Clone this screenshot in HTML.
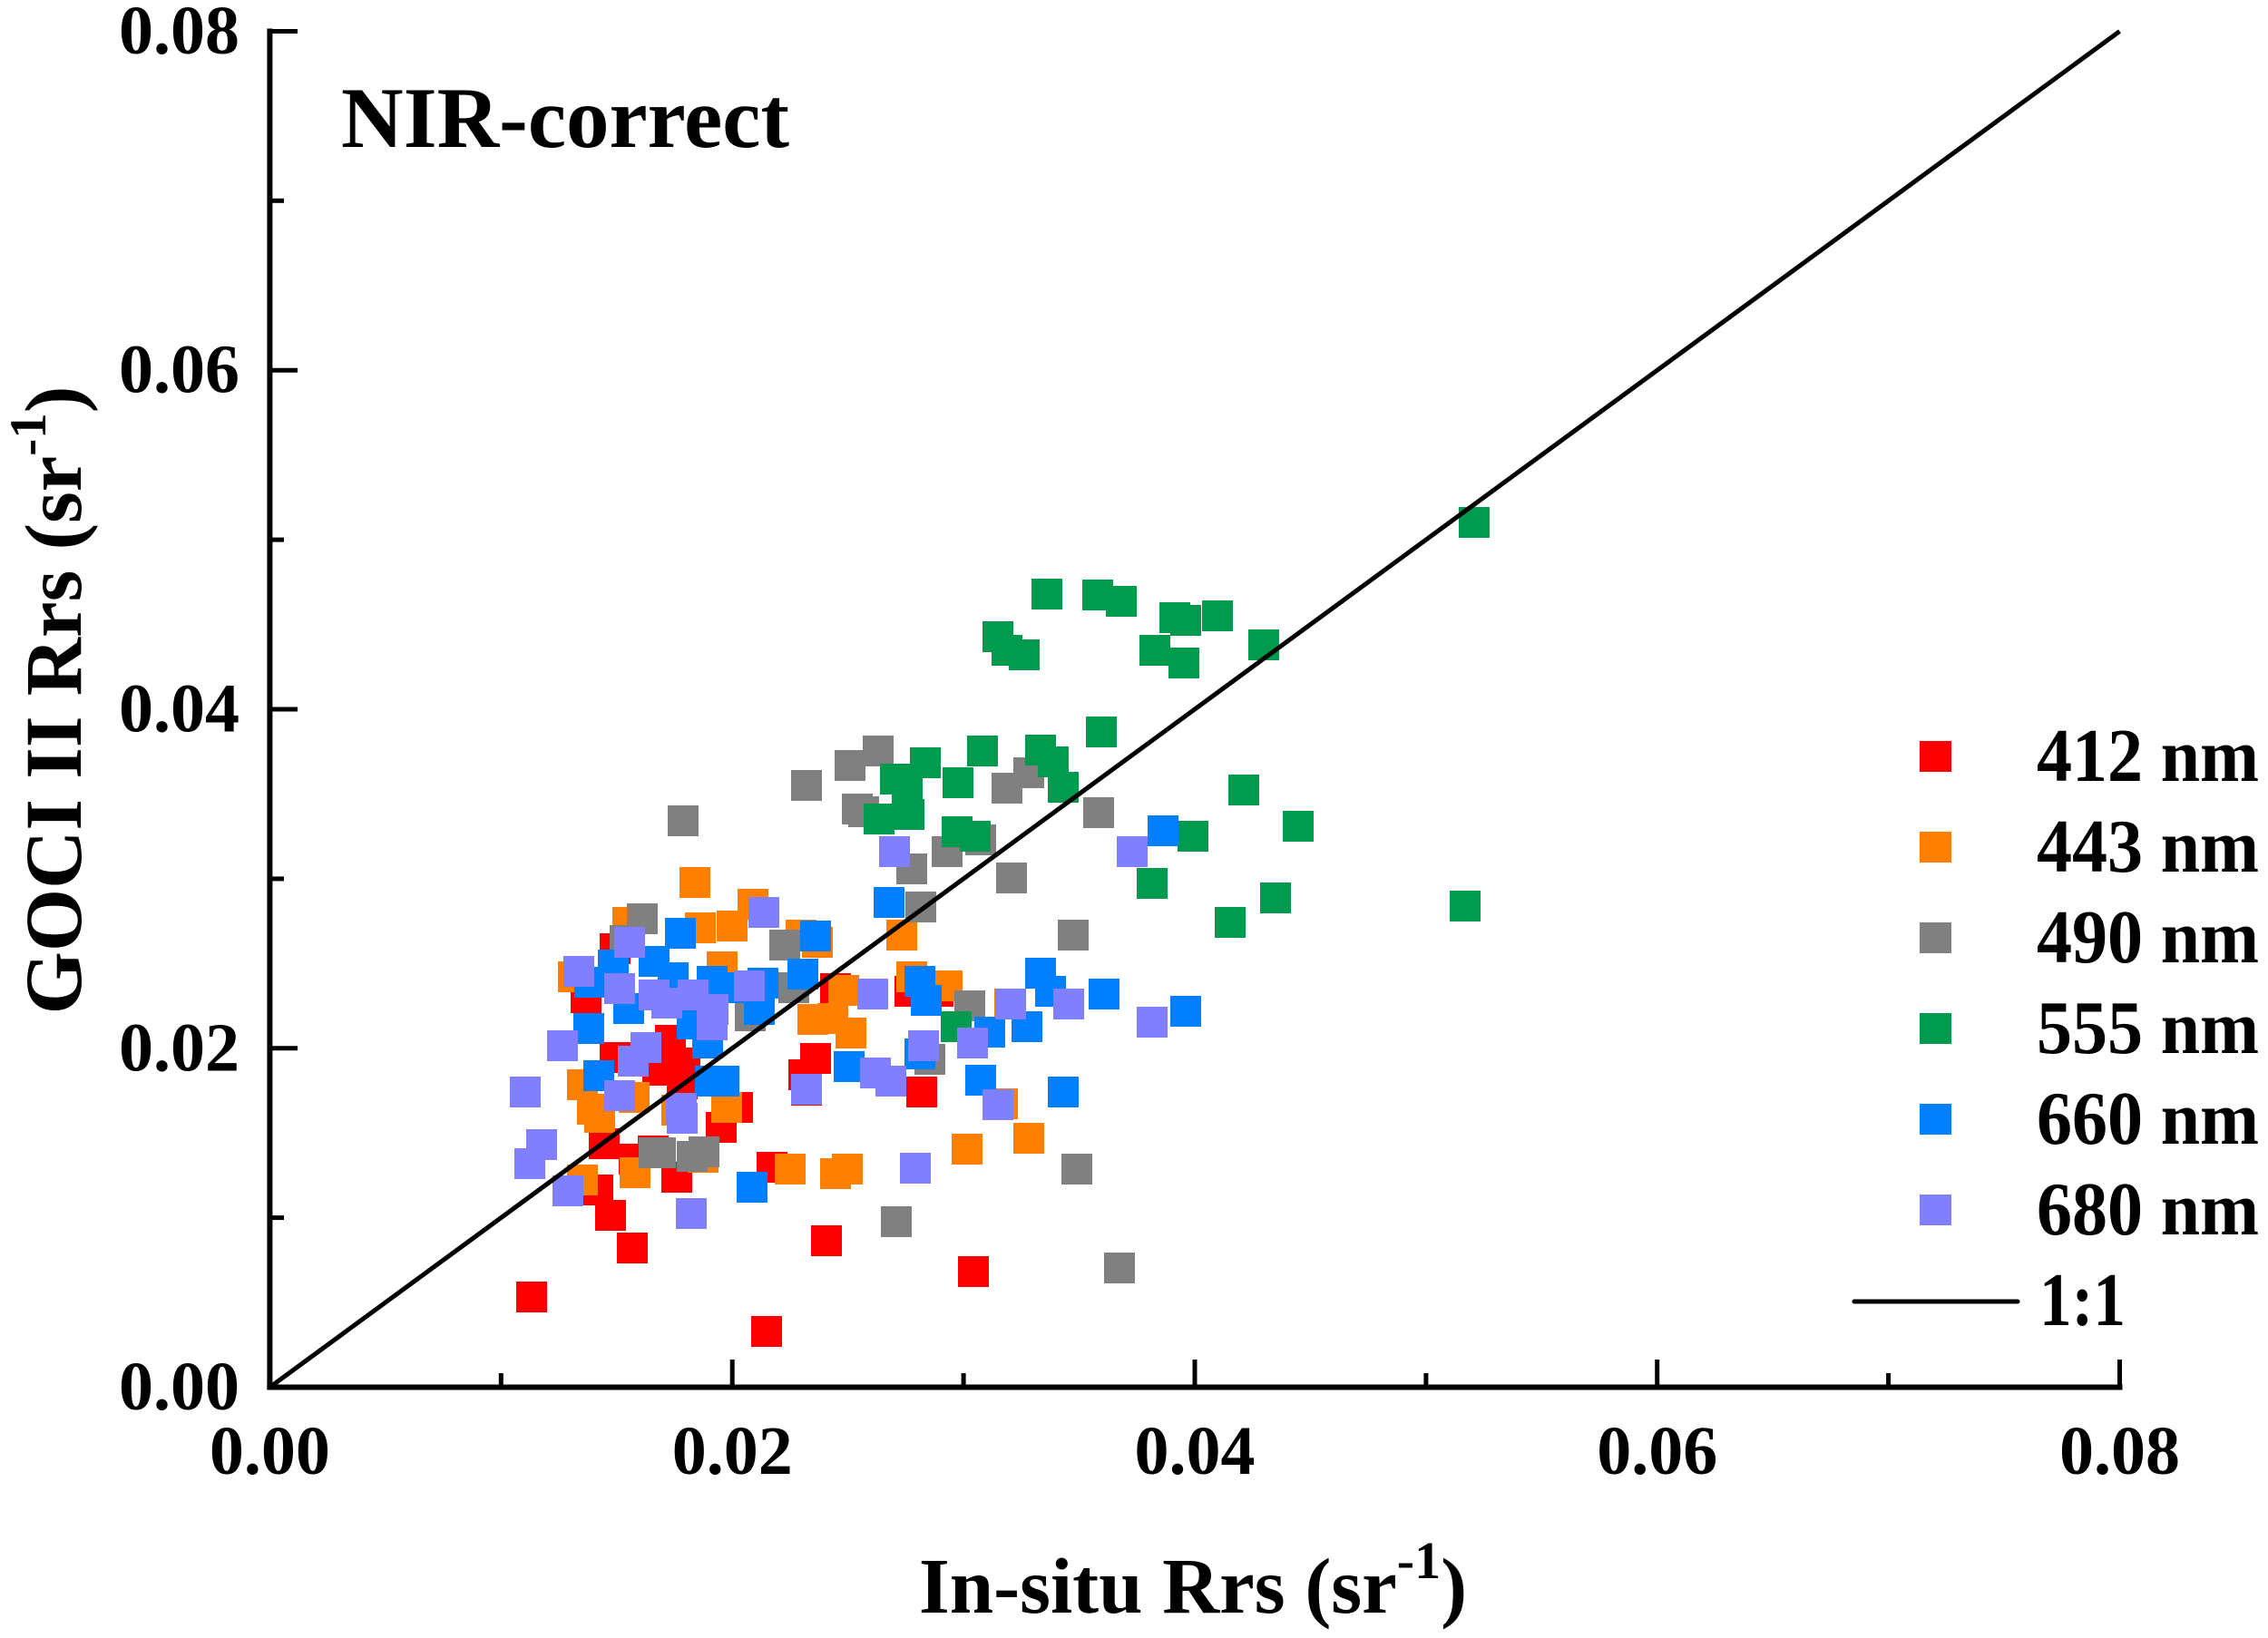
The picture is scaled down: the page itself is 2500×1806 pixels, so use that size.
<!DOCTYPE html>
<html><head><meta charset="utf-8"><style>
html,body{margin:0;padding:0;background:#fff;}
svg{display:block;}
text{font-family:"Liberation Serif","Times New Roman",serif;font-weight:bold;fill:#000;}
</style></head><body>
<svg xmlns="http://www.w3.org/2000/svg" width="2500" height="1806" viewBox="0 0 2500 1806">
<rect width="2500" height="1806" fill="#fff"/>
<g fill="#FF0000">
<rect x="661" y="1029" width="34" height="34"/><rect x="629" y="1083" width="34" height="34"/><rect x="661" y="1149" width="34" height="34"/><rect x="722" y="1130" width="34" height="34"/><rect x="738" y="1155" width="34" height="34"/><rect x="735" y="1178" width="34" height="34"/><rect x="708" y="1163" width="34" height="34"/><rect x="904" y="1073" width="34" height="34"/><rect x="986" y="1076" width="34" height="34"/><rect x="882" y="1150" width="34" height="34"/><rect x="869" y="1168" width="34" height="34"/><rect x="872" y="1185" width="34" height="34"/><rect x="796" y="1204" width="34" height="34"/><rect x="778" y="1226" width="34" height="34"/><rect x="649" y="1244" width="34" height="34"/><rect x="682" y="1261" width="34" height="34"/><rect x="703" y="1252" width="34" height="34"/><rect x="729" y="1281" width="34" height="34"/><rect x="642" y="1295" width="34" height="34"/><rect x="656" y="1323" width="34" height="34"/><rect x="680" y="1359" width="34" height="34"/><rect x="569" y="1413" width="34" height="34"/><rect x="828" y="1451" width="34" height="34"/><rect x="834" y="1270" width="34" height="34"/><rect x="894" y="1351" width="34" height="34"/><rect x="1017" y="1076" width="34" height="34"/><rect x="999" y="1187" width="34" height="34"/><rect x="1056" y="1385" width="34" height="34"/>
</g>
<g fill="#FF8000">
<rect x="749" y="956" width="34" height="34"/><rect x="813" y="980" width="34" height="34"/><rect x="675" y="1000" width="34" height="34"/><rect x="755" y="1006" width="34" height="34"/><rect x="790" y="1004" width="34" height="34"/><rect x="884" y="1022" width="34" height="34"/><rect x="866" y="1014" width="34" height="34"/><rect x="779" y="1049" width="34" height="34"/><rect x="615" y="1060" width="34" height="34"/><rect x="913" y="1075" width="34" height="34"/><rect x="879" y="1107" width="34" height="34"/><rect x="901" y="1106" width="34" height="34"/><rect x="921" y="1122" width="34" height="34"/><rect x="977" y="1014" width="34" height="34"/><rect x="988" y="1060" width="34" height="34"/><rect x="625" y="1179" width="34" height="34"/><rect x="636" y="1206" width="34" height="34"/><rect x="644" y="1215" width="34" height="34"/><rect x="682" y="1193" width="34" height="34"/><rect x="784" y="1204" width="34" height="34"/><rect x="729" y="1207" width="34" height="34"/><rect x="625" y="1284" width="34" height="34"/><rect x="683" y="1276" width="34" height="34"/><rect x="758" y="1259" width="34" height="34"/><rect x="854" y="1272" width="34" height="34"/><rect x="904" y="1277" width="34" height="34"/><rect x="917" y="1272" width="34" height="34"/><rect x="1027" y="1070" width="34" height="34"/><rect x="1096" y="1090" width="34" height="34"/><rect x="1088" y="1200" width="34" height="34"/><rect x="1049" y="1250" width="34" height="34"/><rect x="1117" y="1238" width="34" height="34"/>
</g>
<g fill="#808080">
<rect x="736" y="888" width="34" height="34"/><rect x="691" y="996" width="34" height="34"/><rect x="672" y="1020" width="34" height="34"/><rect x="848" y="1025" width="34" height="34"/><rect x="858" y="1072" width="34" height="34"/><rect x="810" y="1103" width="34" height="34"/><rect x="704" y="1254" width="34" height="34"/><rect x="711" y="1254" width="34" height="34"/><rect x="746" y="1258" width="34" height="34"/><rect x="759" y="1253" width="34" height="34"/><rect x="971" y="1330" width="34" height="34"/><rect x="872" y="849" width="34" height="34"/><rect x="920" y="827" width="34" height="34"/><rect x="951" y="811" width="34" height="34"/><rect x="928" y="875" width="34" height="34"/><rect x="935" y="878" width="34" height="34"/><rect x="1093" y="852" width="34" height="34"/><rect x="1117" y="835" width="34" height="34"/><rect x="1194" y="879" width="34" height="34"/><rect x="1027" y="922" width="34" height="34"/><rect x="1064" y="909" width="34" height="34"/><rect x="988" y="941" width="34" height="34"/><rect x="1098" y="951" width="34" height="34"/><rect x="998" y="983" width="34" height="34"/><rect x="1166" y="1014" width="34" height="34"/><rect x="1052" y="1092" width="34" height="34"/><rect x="1008" y="1151" width="34" height="34"/><rect x="1170" y="1272" width="34" height="34"/><rect x="1217" y="1381" width="34" height="34"/>
</g>
<g fill="#009A4E">
<rect x="1608" y="559" width="34" height="34"/><rect x="1137" y="638" width="34" height="34"/><rect x="1193" y="639" width="34" height="34"/><rect x="1219" y="646" width="34" height="34"/><rect x="1278" y="664" width="34" height="34"/><rect x="1290" y="667" width="34" height="34"/><rect x="1325" y="662" width="34" height="34"/><rect x="1083" y="685" width="34" height="34"/><rect x="1093" y="700" width="34" height="34"/><rect x="1112" y="705" width="34" height="34"/><rect x="1256" y="700" width="34" height="34"/><rect x="1288" y="714" width="34" height="34"/><rect x="1376" y="694" width="34" height="34"/><rect x="1197" y="790" width="34" height="34"/><rect x="1066" y="811" width="34" height="34"/><rect x="1130" y="810" width="34" height="34"/><rect x="1144" y="823" width="34" height="34"/><rect x="1003" y="824" width="34" height="34"/><rect x="970" y="842" width="34" height="34"/><rect x="983" y="853" width="34" height="34"/><rect x="1039" y="846" width="34" height="34"/><rect x="1155" y="851" width="34" height="34"/><rect x="952" y="886" width="34" height="34"/><rect x="985" y="881" width="34" height="34"/><rect x="1038" y="900" width="34" height="34"/><rect x="1058" y="905" width="34" height="34"/><rect x="1354" y="854" width="34" height="34"/><rect x="1414" y="894" width="34" height="34"/><rect x="1298" y="905" width="34" height="34"/><rect x="1253" y="957" width="34" height="34"/><rect x="1389" y="973" width="34" height="34"/><rect x="1598" y="982" width="34" height="34"/><rect x="1339" y="1000" width="34" height="34"/><rect x="1037" y="1115" width="34" height="34"/>
</g>
<g fill="#0080FF">
<rect x="733" y="1012" width="34" height="34"/><rect x="659" y="1047" width="34" height="34"/><rect x="704" y="1043" width="34" height="34"/><rect x="633" y="1066" width="34" height="34"/><rect x="725" y="1061" width="34" height="34"/><rect x="768" y="1065" width="34" height="34"/><rect x="786" y="1072" width="34" height="34"/><rect x="824" y="1067" width="34" height="34"/><rect x="882" y="1015" width="34" height="34"/><rect x="868" y="1057" width="34" height="34"/><rect x="963" y="978" width="34" height="34"/><rect x="676" y="1095" width="34" height="34"/><rect x="632" y="1117" width="34" height="34"/><rect x="746" y="1112" width="34" height="34"/><rect x="763" y="1133" width="34" height="34"/><rect x="820" y="1096" width="34" height="34"/><rect x="643" y="1169" width="34" height="34"/><rect x="919" y="1159" width="34" height="34"/><rect x="997" y="1145" width="34" height="34"/><rect x="766" y="1175" width="34" height="34"/><rect x="781" y="1175" width="34" height="34"/><rect x="812" y="1292" width="34" height="34"/><rect x="1265" y="899" width="34" height="34"/><rect x="997" y="1065" width="34" height="34"/><rect x="1004" y="1086" width="34" height="34"/><rect x="1130" y="1056" width="34" height="34"/><rect x="1141" y="1076" width="34" height="34"/><rect x="1200" y="1079" width="34" height="34"/><rect x="1290" y="1098" width="34" height="34"/><rect x="1074" y="1121" width="34" height="34"/><rect x="1115" y="1115" width="34" height="34"/><rect x="1064" y="1174" width="34" height="34"/><rect x="1155" y="1187" width="34" height="34"/>
</g>
<g fill="#8080FF">
<rect x="825" y="989" width="34" height="34"/><rect x="677" y="1022" width="34" height="34"/><rect x="621" y="1054" width="34" height="34"/><rect x="666" y="1073" width="34" height="34"/><rect x="704" y="1080" width="34" height="34"/><rect x="718" y="1089" width="34" height="34"/><rect x="747" y="1080" width="34" height="34"/><rect x="769" y="1096" width="34" height="34"/><rect x="768" y="1113" width="34" height="34"/><rect x="809" y="1070" width="34" height="34"/><rect x="969" y="922" width="34" height="34"/><rect x="945" y="1079" width="34" height="34"/><rect x="603" y="1136" width="34" height="34"/><rect x="695" y="1138" width="34" height="34"/><rect x="681" y="1153" width="34" height="34"/><rect x="666" y="1191" width="34" height="34"/><rect x="948" y="1166" width="34" height="34"/><rect x="965" y="1175" width="34" height="34"/><rect x="562" y="1187" width="34" height="34"/><rect x="734" y="1205" width="34" height="34"/><rect x="735" y="1216" width="34" height="34"/><rect x="580" y="1245" width="34" height="34"/><rect x="567" y="1266" width="34" height="34"/><rect x="609" y="1296" width="34" height="34"/><rect x="745" y="1321" width="34" height="34"/><rect x="872" y="1184" width="34" height="34"/><rect x="992" y="1271" width="34" height="34"/><rect x="1231" y="922" width="34" height="34"/><rect x="1097" y="1090" width="34" height="34"/><rect x="1161" y="1090" width="34" height="34"/><rect x="1253" y="1110" width="34" height="34"/><rect x="1001" y="1136" width="34" height="34"/><rect x="1055" y="1133" width="34" height="34"/><rect x="1083" y="1201" width="34" height="34"/>
</g>
<!-- 1:1 line -->
<line x1="297.4" y1="1529.5" x2="2336.5" y2="34.5" stroke="#000" stroke-width="5"/>
<!-- axes -->
<g stroke="#000" stroke-width="6" fill="none">
<line x1="297.4" y1="31.5" x2="297.4" y2="1532.5"/>
<line x1="294.4" y1="1529.5" x2="2339.5" y2="1529.5"/>
</g>
<g stroke="#000" stroke-width="5">
<line x1="297" y1="34.5" x2="328" y2="34.5"/>
<line x1="297" y1="408.2" x2="328" y2="408.2"/>
<line x1="297" y1="782" x2="328" y2="782"/>
<line x1="297" y1="1155.8" x2="328" y2="1155.8"/>
<line x1="297" y1="221.3" x2="313" y2="221.3"/>
<line x1="297" y1="595.1" x2="313" y2="595.1"/>
<line x1="297" y1="968.9" x2="313" y2="968.9"/>
<line x1="297" y1="1342.6" x2="313" y2="1342.6"/>
<line x1="807.2" y1="1529" x2="807.2" y2="1499"/>
<line x1="1317" y1="1529" x2="1317" y2="1499"/>
<line x1="1826.7" y1="1529" x2="1826.7" y2="1499"/>
<line x1="2336.5" y1="1532" x2="2336.5" y2="1499"/>
<line x1="552.3" y1="1529" x2="552.3" y2="1514"/>
<line x1="1062.1" y1="1529" x2="1062.1" y2="1514"/>
<line x1="1571.9" y1="1529" x2="1571.9" y2="1514"/>
<line x1="2081.6" y1="1529" x2="2081.6" y2="1514"/>
</g>
<!-- y tick labels -->
<g font-size="76" text-anchor="end">
<text x="264" y="59">0.08</text>
<text x="264" y="432.7">0.06</text>
<text x="264" y="806.5">0.04</text>
<text x="264" y="1180.3">0.02</text>
<text x="264" y="1554">0.00</text>
</g>
<!-- x tick labels -->
<g font-size="76" text-anchor="middle">
<text x="297.4" y="1625">0.00</text>
<text x="807.2" y="1625">0.02</text>
<text x="1317" y="1625">0.04</text>
<text x="1826.7" y="1625">0.06</text>
<text x="2336.5" y="1625">0.08</text>
</g>
<text x="376" y="162" font-size="95">NIR-correct</text>
<text x="1315" y="1778" font-size="87" text-anchor="middle">In-situ Rrs (sr<tspan font-size="58" dy="-38">-1</tspan><tspan dy="38">)</tspan></text>
<text transform="translate(89,772) rotate(-90)" x="0" y="0" font-size="89" text-anchor="middle">GOCI II Rrs (sr<tspan font-size="57" dy="-39">-1</tspan><tspan dy="39">)</tspan></text>
<!-- legend -->
<rect x="2116" y="817" width="35" height="34" fill="#FF0000"/>
<rect x="2116" y="917" width="35" height="34" fill="#FF8000"/>
<rect x="2116" y="1017" width="35" height="34" fill="#808080"/>
<rect x="2116" y="1117" width="35" height="34" fill="#009A4E"/>
<rect x="2116" y="1217" width="35" height="34" fill="#0080FF"/>
<rect x="2116" y="1317" width="35" height="34" fill="#8080FF"/>
<line x1="2044" y1="1435" x2="2224" y2="1435" stroke="#000" stroke-width="5" stroke-linecap="round"/>
<g font-size="84">
<text x="2245" y="861" textLength="245" lengthAdjust="spacingAndGlyphs">412 nm</text>
<text x="2245" y="961" textLength="245" lengthAdjust="spacingAndGlyphs">443 nm</text>
<text x="2245" y="1061" textLength="245" lengthAdjust="spacingAndGlyphs">490 nm</text>
<text x="2245" y="1161" textLength="245" lengthAdjust="spacingAndGlyphs">555 nm</text>
<text x="2245" y="1261" textLength="245" lengthAdjust="spacingAndGlyphs">660 nm</text>
<text x="2245" y="1361" textLength="245" lengthAdjust="spacingAndGlyphs">680 nm</text>
<text x="2248" y="1461" textLength="95" lengthAdjust="spacingAndGlyphs">1:1</text>
</g>
</svg>
</body></html>
